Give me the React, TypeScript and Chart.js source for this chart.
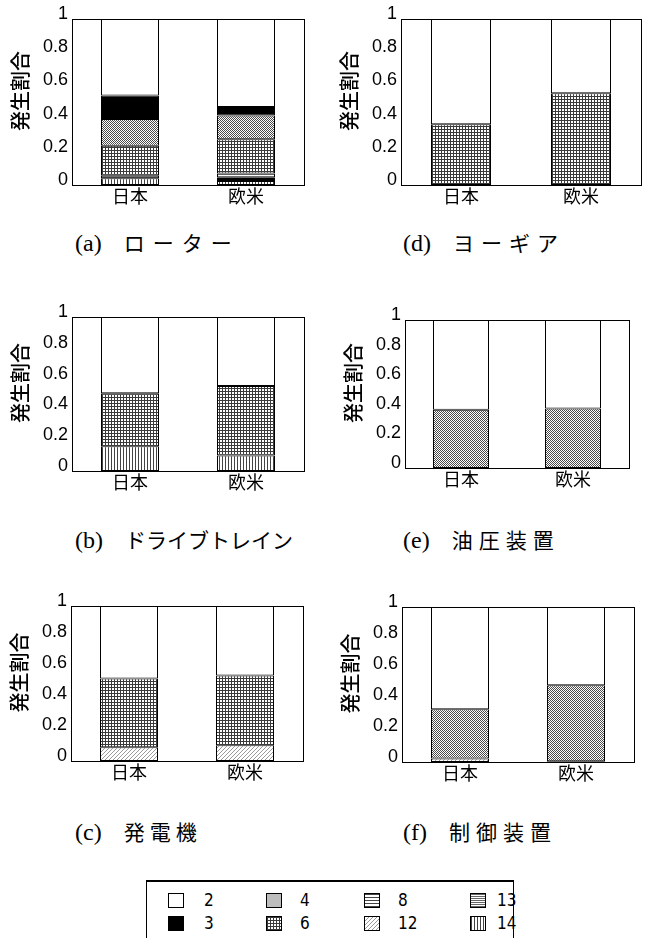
import React, { useEffect, useRef } from 'react';
import { Chart, registerables } from 'chart.js';

Chart.register(...registerables);

// ---------- data ----------
const categories = ['日本', '欧米'];
const yTickValues = [0, 0.2, 0.4, 0.6, 0.8, 1];
const yAxisTitle = '発生割合';
// stacking order, bottom → top (legend order reversed)
const stackOrder = ['14', '13', '12', '8', '6', '4', '3', '2'];
// legend columns (column-major)
const legendColumns = [['2', '3'], ['4', '6'], ['8', '12'], ['13', '14']];

// (a) ローター
const rotor14 = [0.04, 0.024];
const rotor13 = [0, 0.012];
const rotor12 = [0, 0.01];
const rotor8 = [0.015, 0.024];
const rotor6 = [0.182, 0.206];
const rotor4 = [0.161, 0.142];
const rotor3 = [0.141, 0.052];
const rotor2 = [0.461, 0.53];

// (b) ドライブトレイン
const drive14 = [0.16, 0.1];
const drive6 = [0.345, 0.452];
const drive2 = [0.495, 0.448];

// (c) 発電機
const gen12 = [0.088, 0.101];
const gen6 = [0.444, 0.451];
const gen2 = [0.468, 0.448];

// (d) ヨーギア
const yaw6 = [0.366, 0.553];
const yaw2 = [0.634, 0.447];

// (e) 油圧装置
const hyd4 = [0.393, 0.402];
const hyd2 = [0.607, 0.598];

// (f) 制御装置
const ctrl12 = [0.022, 0.005];
const ctrl4 = [0.319, 0.49];
const ctrl2 = [0.659, 0.505];

// ---------- layout / styles ----------
const SANS = '"Liberation Sans", Arial, sans-serif';
const CJK = '"Noto Sans CJK JP", sans-serif';
const SERIF = '"Liberation Serif", "Noto Sans CJK JP", serif';

type PanelCfg = {
  label: string;
  name: string;
  spacing: number;
  series: Record<string, number[]>;
  box: { left: number; top: number; width: number; height: number };
  area: { left: number; top: number; right: number; bottom: number };
  captionTop: number;
  captionLeft: number;
};

const panels: PanelCfg[] = [
  {
    label: '(a)', name: 'ローター', spacing: 8,
    series: { '14': rotor14, '13': rotor13, '12': rotor12, '8': rotor8, '6': rotor6, '4': rotor4, '3': rotor3, '2': rotor2 },
    box: { left: 0, top: 0, width: 327, height: 215 },
    area: { left: 72, top: 19, right: 304, bottom: 185 },
    captionTop: 230, captionLeft: 75,
  },
  {
    label: '(d)', name: 'ヨーギア', spacing: 7,
    series: { '6': yaw6, '2': yaw2 },
    box: { left: 327, top: 0, width: 327, height: 215 },
    area: { left: 401, top: 19, right: 641, bottom: 185 },
    captionTop: 230, captionLeft: 403,
  },
  {
    label: '(b)', name: 'ドライブトレイン', spacing: 0,
    series: { '14': drive14, '6': drive6, '2': drive2 },
    box: { left: 0, top: 295, width: 327, height: 205 },
    area: { left: 72, top: 317, right: 304, bottom: 471 },
    captionTop: 527, captionLeft: 75,
  },
  {
    label: '(e)', name: '油圧装置', spacing: 6,
    series: { '4': hyd4, '2': hyd2 },
    box: { left: 327, top: 295, width: 327, height: 205 },
    area: { left: 405, top: 320, right: 629, bottom: 468 },
    captionTop: 527, captionLeft: 403,
  },
  {
    label: '(c)', name: '発電機', spacing: 5,
    series: { '12': gen12, '6': gen6, '2': gen2 },
    box: { left: 0, top: 585, width: 327, height: 205 },
    area: { left: 71, top: 606, right: 303, bottom: 761 },
    captionTop: 819, captionLeft: 75,
  },
  {
    label: '(f)', name: '制御装置', spacing: 6,
    series: { '12': ctrl12, '4': ctrl4, '2': ctrl2 },
    box: { left: 327, top: 585, width: 327, height: 205 },
    area: { left: 402, top: 607, right: 634, bottom: 762 },
    captionTop: 819, captionLeft: 403,
  },
];

// ---------- patterns ----------
function makeTile(key: string): HTMLCanvasElement {
  const c = document.createElement('canvas');
  const dims: Record<string, [number, number]> = {
    '4': [2, 2], '6': [3, 3], '8': [1, 3], '12': [4, 4], '13': [1, 2], '14': [3, 1],
  };
  const [w, h] = dims[key] || [1, 1];
  c.width = w;
  c.height = h;
  const g = c.getContext('2d')!;
  g.fillStyle = '#ffffff';
  g.fillRect(0, 0, w, h);
  switch (key) {
    case '4':
      g.fillStyle = '#4a4a4a';
      g.fillRect(0, 0, 1, 1);
      g.fillRect(1, 1, 1, 1);
      break;
    case '6':
      g.fillStyle = '#3a3a3a';
      g.fillRect(0, 0, 3, 1);
      g.fillRect(0, 0, 1, 3);
      break;
    case '8':
      g.fillStyle = '#444';
      g.fillRect(0, 0, 1, 1);
      break;
    case '12':
      g.fillStyle = '#9a9a9a';
      g.fillRect(0, 3, 1, 1);
      g.fillRect(1, 2, 1, 1);
      g.fillRect(2, 1, 1, 1);
      g.fillRect(3, 0, 1, 1);
      break;
    case '13':
      g.fillStyle = '#666';
      g.fillRect(0, 0, 1, 1);
      break;
    case '14':
      g.fillStyle = '#444';
      g.fillRect(0, 0, 1, 1);
      break;
  }
  return c;
}

function fillFor(ctx: CanvasRenderingContext2D, key: string): any {
  if (key === '2') return '#ffffff';
  if (key === '3') return '#000000';
  return ctx.createPattern(makeTile(key), 'repeat');
}

function legendBackground(key: string): React.CSSProperties {
  if (key === '2') return { background: '#ffffff' };
  if (key === '3') return { background: '#000000' };
  if (key === '4') return { background: '#bdbdbd' };
  return { backgroundImage: `url(${makeTile(key).toDataURL()})`, backgroundRepeat: 'repeat' };
}

// ---------- plugins ----------
const framePlugin = {
  id: 'frame',
  afterDraw(chart: any) {
    const { ctx, chartArea: a } = chart;
    const L = Math.round(a.left), T = Math.round(a.top), R = Math.round(a.right), B = Math.round(a.bottom);
    ctx.save();
    ctx.strokeStyle = '#000';
    ctx.lineWidth = 1;
    ctx.strokeRect(L + 0.5, T + 0.5, R - L, B - T);
    ctx.restore();
  },
};

const yTitlePlugin = {
  id: 'yTitle',
  afterDraw(chart: any, _args: any, opts: any) {
    const { ctx, chartArea: a } = chart;
    ctx.save();
    ctx.translate(a.left + opts.dx, (a.top + a.bottom) / 2 + opts.dy);
    ctx.rotate(-Math.PI / 2);
    ctx.font = opts.font;
    ctx.fillStyle = '#000';
    ctx.textAlign = 'center';
    ctx.textBaseline = 'middle';
    ctx.fillText(opts.text, 0, 0);
    ctx.restore();
  },
};

const X_AXIS_H = 22;

function Panel({ cfg }: { cfg: PanelCfg }) {
  const ref = useRef<HTMLCanvasElement>(null);
  useEffect(() => {
    const canvas = ref.current!;
    const ctx = canvas.getContext('2d')!;
    const { box, area } = cfg;
    const datasets = stackOrder
      .filter((k) => cfg.series[k])
      .map((k) => ({
        label: k,
        data: cfg.series[k],
        backgroundColor: fillFor(ctx, k),
        borderColor: '#000',
        borderWidth: 1,
        borderSkipped: false,
        barPercentage: 0.5,
        categoryPercentage: 1,
      }));
    const chart = new Chart(ctx, {
      type: 'bar',
      data: { labels: categories, datasets: datasets as any },
      options: {
        animation: false,
        responsive: false,
        maintainAspectRatio: false,
        layout: {
          padding: {
            left: 0,
            top: area.top - box.top,
            right: box.left + box.width - area.right,
            bottom: box.top + box.height - area.bottom - X_AXIS_H,
          },
        },
        plugins: {
          legend: { display: false },
          tooltip: { enabled: false },
          yTitle: { text: yAxisTitle, dx: -52, dy: -11, font: `500 20px ${CJK}` },
        } as any,
        scales: {
          x: {
            stacked: true,
            grid: { display: false, drawTicks: false },
            border: { display: false },
            ticks: { color: '#000', font: { family: CJK, size: 18 }, padding: 0, maxRotation: 0 },
            afterFit: (s: any) => { s.height = X_AXIS_H; },
          },
          y: {
            stacked: true,
            min: 0,
            max: 1,
            grid: { display: false, drawTicks: false },
            border: { display: false },
            afterBuildTicks: (s: any) => { s.ticks = yTickValues.map((v) => ({ value: v })); },
            ticks: {
              color: '#000',
              font: { family: SANS, size: 18 },
              padding: 4,
              labelOffset: -5,
              callback: (v: any) => String(Number(v)),
            },
            afterFit: (s: any) => { s.width = area.left - box.left; },
          },
        },
      } as any,
      plugins: [framePlugin, yTitlePlugin],
    });
    return () => chart.destroy();
  }, [cfg]);
  return (
    <canvas
      ref={ref}
      width={cfg.box.width}
      height={cfg.box.height}
      style={{ position: 'absolute', left: cfg.box.left, top: cfg.box.top, width: cfg.box.width, height: cfg.box.height }}
    />
  );
}

function Caption({ cfg }: { cfg: PanelCfg }) {
  return (
    <div
      style={{
        position: 'absolute',
        left: cfg.captionLeft,
        top: cfg.captionTop,
        fontFamily: SERIF,
        fontSize: 21,
        lineHeight: '26px',
        whiteSpace: 'nowrap',
        color: '#000',
      }}
    >
      <span style={{ fontSize: 24 }}>{cfg.label}</span>
      <span style={{ marginLeft: 22, letterSpacing: cfg.spacing }}>{cfg.name}</span>
    </div>
  );
}

function Legend() {
  const colX = [168, 266, 364, 470];
  const textX = [204, 300, 398, 497];
  const rowY = [893, 916];
  return (
    <>
      <div
        style={{
          position: 'absolute',
          left: 146,
          top: 880,
          width: 368,
          height: 80,
          borderTop: '2px solid #000',
          borderLeft: '1.5px solid #000',
          borderRight: '1.5px solid #000',
          boxSizing: 'border-box',
        }}
      />
      {legendColumns.map((col, ci) =>
        col.map((key, ri) => (
          <React.Fragment key={key}>
            <div
              style={{
                position: 'absolute',
                left: colX[ci],
                top: rowY[ri],
                width: 16,
                height: 15,
                border: '1.5px solid #000',
                boxSizing: 'border-box',
                ...legendBackground(key),
              }}
            />
            <div
              style={{
                position: 'absolute',
                left: textX[ci],
                top: rowY[ri] - 3,
                fontFamily: '"Liberation Sans Narrow", "DejaVu Sans Condensed", "Liberation Sans", sans-serif',
                fontSize: 17,
                lineHeight: '20px',
                color: '#000',
              }}
            >
              {key}
            </div>
          </React.Fragment>
        ))
      )}
    </>
  );
}

export default function App() {
  return (
    <div style={{ position: 'absolute', left: 0, top: 0, width: 654, height: 938, overflow: 'hidden', background: '#fff' }}>
      {panels.map((p) => (
        <React.Fragment key={p.label}>
          <Panel cfg={p} />
          <Caption cfg={p} />
        </React.Fragment>
      ))}
      <Legend />
    </div>
  );
}
